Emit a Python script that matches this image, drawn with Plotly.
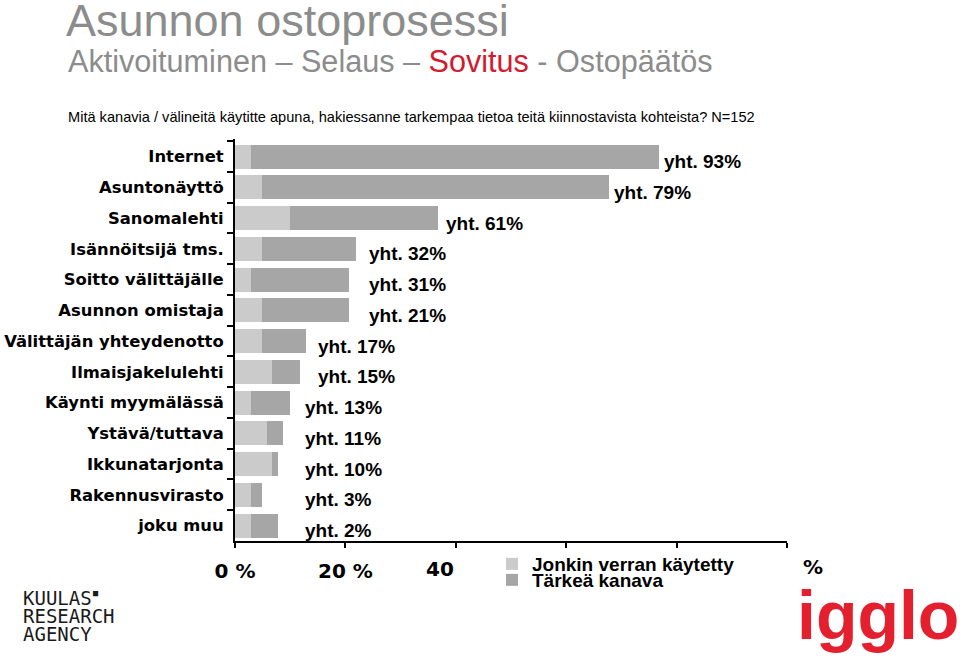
import plotly.graph_objects as go

categories = ["Internet", "Asuntonäyttö", "Sanomalehti", "Isännöitsijä tms.",
              "Soitto välittäjälle", "Asunnon omistaja", "Välittäjän yhteydenotto",
              "Ilmaisjakelulehti", "Käynti myymälässä", "Ystävä/tuttava",
              "Ikkunatarjonta", "Rakennusvirasto", "joku muu"]
jonkin = [2.9, 4.9, 10.0, 4.9, 2.9, 4.9, 4.9, 6.7, 2.9, 5.8, 6.7, 2.9, 2.9]
tarkea = [73.9, 62.9, 26.8, 17.0, 17.8, 15.8, 8.0, 5.1, 7.1, 2.9, 1.1, 2.0, 4.9]
yht_totals = [93, 79, 61, 32, 31, 21, 17, 15, 13, 11, 10, 3, 2]
x_ticks = [0, 20, 40, 60, 80, 100]
x_ticktext = ["0 %", "20 %", "", "", "", ""]

# label anchor positions (x in axis units)
label_x = [77.4, 68.3, 37.9, 23.9, 23.9, 23.9, 14.7, 14.7, 12.3, 12.3, 12.3, 12.3, 12.3]

W, H = 960, 662
L, R, T, B = 235, 787, 139, 541


def px(xp):
    return (xp - L) / (R - L)


def py(yp):
    return (B - yp) / (B - T)


fig = go.Figure()
fig.add_trace(go.Bar(y=categories, x=jonkin, orientation="h", name="Jonkin verran käytetty",
                     marker=dict(color="#cbcbcb", line=dict(width=0)), legend="legend"))
fig.add_trace(go.Bar(y=categories, x=tarkea, orientation="h", name="Tärkeä kanava",
                     marker=dict(color="#a6a6a6", line=dict(width=0)), legend="legend2"))

ann = []
for c, t, lx in zip(categories, yht_totals, label_x):
    ann.append(dict(x=lx, y=c, xref="x", yref="y", text=f"yht. {t}%", showarrow=False,
                    xanchor="left", yanchor="middle", yshift=-5,
                    font=dict(family="Liberation Sans", size=19, color="black", weight="bold")))

# axis end labels partly hidden in the original
ann.append(dict(x=px(440), y=py(569), xref="paper", yref="paper", text="40", showarrow=False,
                xanchor="center", yanchor="middle",
                font=dict(family="DejaVu Sans", size=20, color="black", weight="bold")))
ann.append(dict(x=px(813), y=py(567), xref="paper", yref="paper", text="%", showarrow=False,
                xanchor="center", yanchor="middle",
                font=dict(family="DejaVu Sans", size=20, color="black", weight="bold")))

# subtitle and question
ann.append(dict(x=px(66), y=py(62), xref="paper", yref="paper", showarrow=False,
                xanchor="left", yanchor="middle",
                text="Aktivoituminen – Selaus – <span style='color:#d41a2e'>Sovitus</span> - Ostopäätös",
                font=dict(family="Liberation Sans", size=30.6, color="#8c8c8c")))
ann.append(dict(x=px(66), y=py(117), xref="paper", yref="paper", showarrow=False,
                xanchor="left", yanchor="middle",
                text="Mitä kanavia / välineitä käytitte apuna, hakiessanne tarkempaa tietoa teitä kiinnostavista kohteista? N=152",
                font=dict(family="Liberation Sans", size=14.6, color="black")))

# logos
for i, line in enumerate(["KUULAS<sup>▪</sup>", "RESEARCH", "AGENCY"]):
    ann.append(dict(x=px(21), y=py(597 + i * 18.5), xref="paper", yref="paper", showarrow=False,
                    xanchor="left", yanchor="middle", text=line,
                    font=dict(family="DejaVu Sans Mono", size=19, color="#1a1a1a")))
ann.append(dict(x=px(878), y=py(615), xref="paper", yref="paper", showarrow=False,
                xanchor="center", yanchor="middle", text="igglo",
                font=dict(family="Liberation Sans", size=68, color="#e4202e", weight="bold")))

legend_font = dict(family="Liberation Sans", size=19, color="black", weight="bold")
fig.update_layout(
    width=W, height=H,
    barmode="stack", bargap=0.22,
    paper_bgcolor="white", plot_bgcolor="white",
    margin=dict(l=L, r=W - R, t=T, b=H - B, autoexpand=False),
    title=dict(text="Asunnon ostoprosessi", x=66 / W, xanchor="left", xref="container",
               y=1 - 20 / H, yanchor="middle", yref="container",
               font=dict(family="Liberation Sans", size=45, color="#8c8c8c")),
    showlegend=True,
    legend=dict(x=px(492), y=py(545), xanchor="left", yanchor="top",
                bgcolor="rgba(255,255,255,0)", font=legend_font),
    legend2=dict(x=px(492), y=py(561), xanchor="left", yanchor="top",
                 bgcolor="rgba(255,255,255,0)", font=legend_font),
    annotations=ann,
    xaxis=dict(range=[0, 100], tickvals=x_ticks, ticktext=x_ticktext, showgrid=False,
               zeroline=False, showline=True, linecolor="black", linewidth=2,
               ticks="outside", ticklen=5, tickwidth=2, tickcolor="black",
               ticklabelstandoff=6,
               tickfont=dict(family="DejaVu Sans", size=20, color="black", weight="bold")),
    yaxis=dict(autorange="reversed", showgrid=False, zeroline=False, showline=True,
               linecolor="black", linewidth=2, ticks="outside", ticklen=6, tickwidth=2,
               tickcolor="black", tickson="boundaries", ticklabelstandoff=6,
               tickfont=dict(family="DejaVu Sans", size=16.4, color="black", weight="bold")),
)

fig.write_html("out.html", config={"displayModeBar": False},
               post_script="document.body.style.margin='0';")
